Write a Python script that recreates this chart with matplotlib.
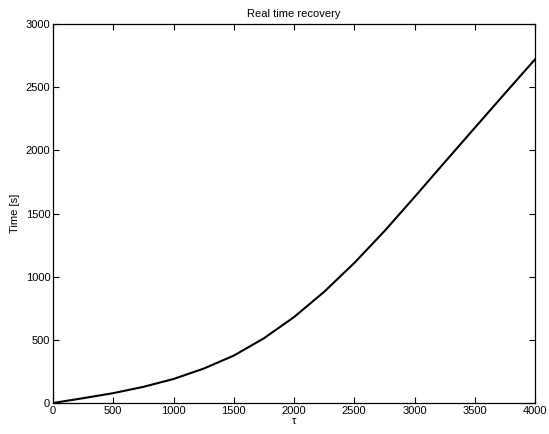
import numpy as np
import matplotlib
matplotlib.use('Agg')
import matplotlib.pyplot as plt

# Values
tau = [0, 250, 500, 750, 1000, 1250, 1500, 1750, 2000, 2250, 2500, 2750,
       3000, 3250, 3500, 3750, 4000]
time_s = [0, 38, 78, 128, 190, 272, 375, 512, 680, 880, 1108, 1360,
          1630, 1905, 2178, 2450, 2720]

plt.rcParams['font.family'] = ['Liberation Sans', 'DejaVu Sans']
plt.rcParams['font.size'] = 8

fig = plt.figure(figsize=(5.49, 4.34), dpi=100)
ax = fig.add_axes([53 / 549, 31 / 434, 482 / 549, 379 / 434])

ax.plot(tau, time_s, color='black', linewidth=1.5)

ax.set_xlim(0, 4000)
ax.set_ylim(0, 3000)
ax.set_xticks(np.arange(0, 4001, 500))
ax.set_yticks(np.arange(0, 3001, 500))
ax.tick_params(direction='in', top=True, right=True, length=4, width=0.8,
               labelsize=8, pad=2)
for s in ax.spines.values():
    s.set_linewidth(0.9)

ax.set_xlabel('τ', labelpad=0)
ax.set_ylabel('Time [s]', labelpad=4)
ax.set_title('Real time recovery', fontsize=8, pad=5)

fig.savefig('out.png', dpi=100)
